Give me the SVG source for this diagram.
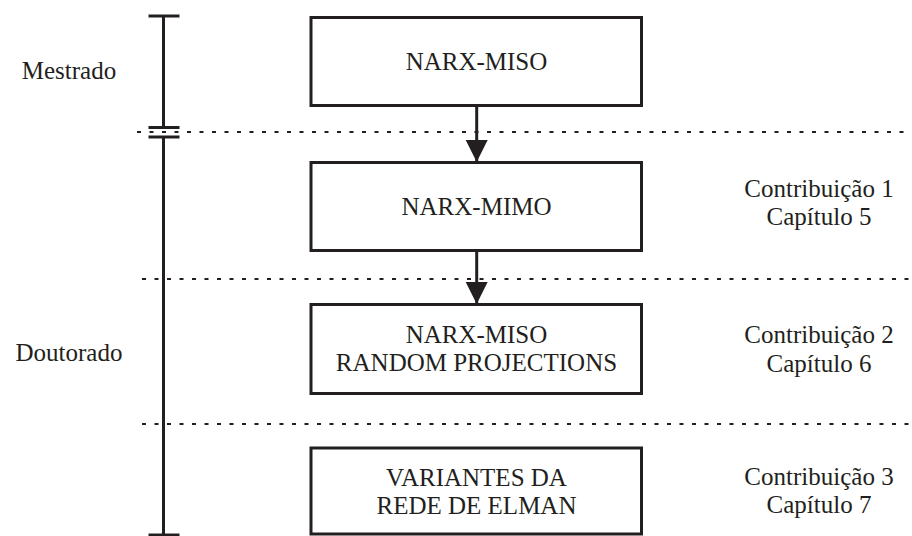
<svg xmlns="http://www.w3.org/2000/svg" width="912" height="536" viewBox="0 0 912 536">
<style>
.box{fill:#fff;stroke:#231f20;stroke-width:3}
.t{font-family:"Liberation Serif","Times New Roman",serif;font-size:25px;fill:#231f20;text-anchor:middle}
.dot{stroke:#231f20;stroke-width:2;stroke-dasharray:4 8.5;fill:none}
.bar{stroke:#231f20;stroke-width:3;fill:none}
.ar{stroke:#231f20;stroke-width:3;fill:none}
</style>
<defs>
<marker id="ah" markerUnits="userSpaceOnUse" markerWidth="22" markerHeight="24" refX="21" refY="11" orient="auto">
<path d="M0,0 L22,11 L0,22 Z" fill="#231f20"/>
</marker>
</defs>
<g id="separators">
<line class="dot" x1="137" y1="132" x2="912" y2="132"/>
<line class="dot" x1="142" y1="279" x2="912" y2="279"/>
<line class="dot" x1="142" y1="424" x2="912" y2="424"/>
</g>
<g id="timeline">
<line class="bar" x1="163.5" y1="16" x2="163.5" y2="127.5"/>
<line class="bar" x1="163.5" y1="137" x2="163.5" y2="536"/>
<line class="bar" x1="148.5" y1="16" x2="179.5" y2="16"/>
<line class="bar" x1="148.5" y1="127.5" x2="179.5" y2="127.5"/>
<line class="bar" x1="148.5" y1="137" x2="179.5" y2="137"/>
<line class="bar" x1="148.5" y1="535" x2="179.5" y2="535"/>
</g>
<g id="label-mestrado"><text class="t" x="69" y="79">Mestrado</text></g>
<g id="label-doutorado"><text class="t" x="69" y="361">Doutorado</text></g>
<g id="node-narx-miso">
<rect class="box" x="311" y="17.5" width="330.5" height="88"/>
<text class="t" x="476.5" y="70">NARX-MISO</text>
</g>
<g id="node-narx-mimo">
<rect class="box" x="311" y="162.5" width="330.5" height="88"/>
<text class="t" x="476.5" y="215">NARX-MIMO</text>
</g>
<g id="node-narx-miso-rp">
<rect class="box" x="311" y="304.5" width="330.5" height="89"/>
<text class="t" x="476.5" y="343">NARX-MISO</text>
<text class="t" x="476.5" y="371">RANDOM PROJECTIONS</text>
</g>
<g id="node-elman">
<rect class="box" x="311" y="448" width="330.5" height="86"/>
<text class="t" x="476.5" y="486">VARIANTES DA</text>
<text class="t" x="476.5" y="514">REDE DE ELMAN</text>
</g>
<g id="contrib-1">
<text class="t" x="819" y="197">Contribuição 1</text>
<text class="t" x="819" y="225">Capítulo 5</text>
</g>
<g id="contrib-2">
<text class="t" x="819" y="343">Contribuição 2</text>
<text class="t" x="819" y="372">Capítulo 6</text>
</g>
<g id="contrib-3">
<text class="t" x="819" y="485">Contribuição 3</text>
<text class="t" x="819" y="513">Capítulo 7</text>
</g>
<g id="connectors">
<line class="ar" x1="476.7" y1="107" x2="476.7" y2="161" marker-end="url(#ah)"/>
<line class="ar" x1="476.7" y1="252" x2="476.7" y2="303" marker-end="url(#ah)"/>
</g>
</svg>
